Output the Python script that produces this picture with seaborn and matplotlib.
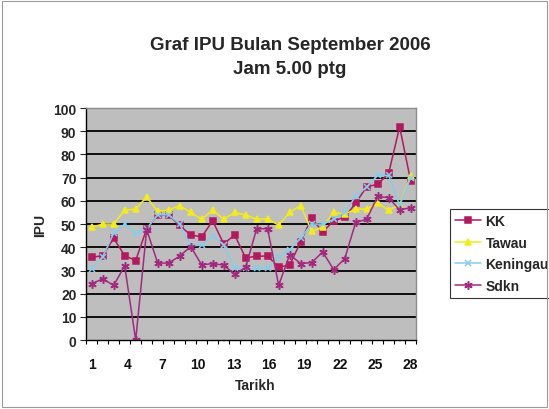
import numpy as np
import pandas as pd
import matplotlib
matplotlib.use('Agg')
import matplotlib.pyplot as plt
from matplotlib.patches import Rectangle
import seaborn as sns

# IPU readings, 1-30 September 2006, 5.00 ptg
hari = list(range(1, 31))
kk = [35.7, 36.4, 43.9, 36.4, 34.3, 47.9, 53.9, 53.9, 49.4, 45.3,
      44.5, 51.4, 41.5, 45.3, 35.4, 36.2, 36.2, 31.4, 32.4, 42.3,
      52.6, 46.6, 51.4, 52.9, 59.0, 66.1, 67.1, 71.9, 91.9, 68.6]
tawau = [48.7, 50.0, 50.0, 56.0, 56.5, 61.7, 55.5, 56.0, 58.0, 55.0,
         52.1, 56.0, 52.1, 55.0, 53.9, 52.1, 52.1, 49.6, 55.0, 58.0,
         46.9, 48.8, 55.0, 54.3, 56.4, 56.5, 59.0, 56.0, 58.3, 70.7]
keningau = [30.5, 36.0, 46.0, 50.0, 46.0, 48.0, 54.0, 54.0, 50.0, 40.5,
            41.0, 45.0, 41.0, 31.0, 31.0, 31.0, 31.0, 36.0, 39.0, 44.0,
            50.0, 50.0, 52.0, 55.0, 62.0, 66.0, 71.0, 71.0, 58.0, 70.0]
sdkn = [24.3, 26.4, 23.6, 32.0, 0.0, 47.6, 33.2, 33.2, 36.2, 40.3,
        32.4, 33.0, 32.3, 28.3, 31.4, 48.0, 48.0, 23.6, 36.8, 33.0,
        33.4, 38.0, 30.4, 35.0, 50.7, 52.1, 61.9, 61.4, 56.1, 57.1]

tick_hari = [1, 4, 7, 10, 13, 16, 19, 22, 25, 28]

series = [
    ('KK', kk, '#B3195E', 's', 4.5),
    ('Tawau', tawau, '#F2EC1C', '^', 5),
    ('Keningau', keningau, '#86CDEB', 'x', 4.5),
    ('Sdkn', sdkn, '#A3297F', (6, 2, 0), 6),
]

sns.set_style('white')
plt.rcParams['font.family'] = ['Liberation Sans', 'DejaVu Sans']

fig = plt.figure(figsize=(5.49, 4.10), dpi=100)
ax = fig.add_axes([0.157, 0.168, 0.601, 0.566])
ax.set_facecolor('#BEBEBE')

for name, vals, col, mk, ms in series:
    sns.lineplot(x=hari, y=vals, ax=ax, color=col, marker=mk, markersize=ms,
                 markeredgecolor=col, markerfacecolor=col, markeredgewidth=1.1,
                 linewidth=1.1, label=name)

ax.set_xlim(0.5, 30.5)
ax.set_ylim(0, 100)
ax.set_yticks(range(0, 101, 10))
for v in range(10, 101, 10):
    ax.axhline(v, color='black', lw=1.3, zorder=0.5)

# category ticks between days, labels spread along the axis
ax.set_xticks(np.arange(0.5, 31, 1), minor=True)
ax.set_xticks(np.linspace(1, 30, len(tick_hari)))
ax.set_xticklabels([str(t) for t in tick_hari])
ax.tick_params(axis='x', which='major', length=0, pad=12,
               labelsize=10, labelcolor='#111111')
ax.tick_params(axis='x', which='minor', length=3, width=0.8, direction='out',
               color='black', bottom=True)
ax.tick_params(axis='y', length=4, width=0.8, direction='out', left=True,
               labelsize=10, pad=3)
for lab in ax.get_xticklabels() + ax.get_yticklabels():
    lab.set_fontweight('bold')

for s in ['left', 'bottom']:
    ax.spines[s].set_color('black')
    ax.spines[s].set_linewidth(1)
for s in ['top', 'right']:
    ax.spines[s].set_color('#8C8C8C')
    ax.spines[s].set_linewidth(1)

ax.set_xlabel('')
ax.set_ylabel('')
fig.text(0.464, 0.058, 'Tarikh', ha='center', va='center',
         fontsize=10, fontweight='bold')
fig.text(0.073, 0.451, 'IPU', ha='center', va='center', rotation=90,
         fontsize=10, fontweight='bold')
fig.text(0.528, 0.86, 'Graf IPU Bulan September 2006\nJam 5.00 ptg',
         ha='center', va='center', fontsize=13.5, fontweight='bold',
         linespacing=1.5)

leg = ax.legend(loc='upper left', bbox_to_anchor=(1.103, 0.565), frameon=True,
                fancybox=False, edgecolor='black',
                prop={'size': 10, 'weight': 'bold'},
                handlelength=1.9, handletextpad=0.3, labelspacing=0.55,
                borderpad=0.35, borderaxespad=0)
leg.get_frame().set_linewidth(0.8)

fig.patches.append(Rectangle((0.004, 0.006), 0.992, 0.988, transform=fig.transFigure,
                             fill=False, edgecolor='#9A9A9A', lw=0.8))

fig.savefig('out.png', dpi=100)
